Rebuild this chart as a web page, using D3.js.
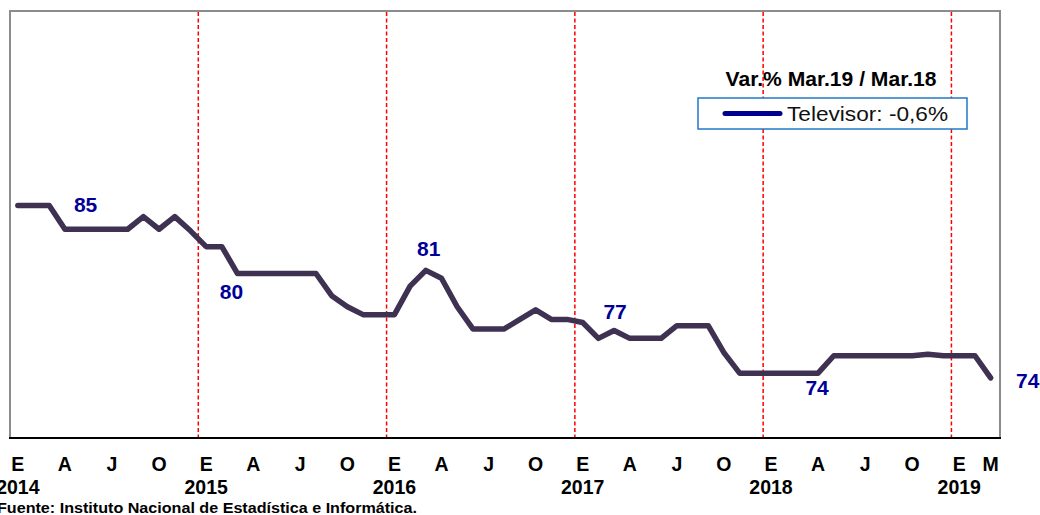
<!DOCTYPE html>
<html>
<head>
<meta charset="utf-8">
<script src="https://cdn.jsdelivr.net/npm/d3@7"></script>
<style>
  html, body { margin: 0; padding: 0; background: #fff; }
  svg { display: block; }
</style>
</head>
<body>
<svg id="chart" width="1040" height="515"></svg>
<script>
// ---- data ----
const years = [2014, 2015, 2016, 2017, 2018, 2019];
const monthLetters = ["E","F","M","A","M","J","J","A","S","O","N","D"];
const categories = [];
years.forEach(y => monthLetters.forEach((m, i) => {
  if (y < 2019 || i < 3) categories.push({ key: y + "-" + (i + 1), year: y, month: i, letter: m });
}));
const televisor = [
  84.7, 84.7, 84.7, 83.2, 83.2, 83.2, 83.2, 83.2, 84.0, 83.2, 84.0, 83.1,
  82.1, 82.1, 80.4, 80.4, 80.4, 80.4, 80.4, 80.4, 79.0, 78.3, 77.8, 77.8,
  77.8, 79.6, 80.6, 80.1, 78.3, 76.9, 76.9, 76.9, 77.5, 78.1, 77.5, 77.5,
  77.3, 76.3, 76.8, 76.3, 76.3, 76.3, 77.1, 77.1, 77.1, 75.4, 74.1, 74.1,
  74.1, 74.1, 74.1, 74.1, 75.2, 75.2, 75.2, 75.2, 75.2, 75.2, 75.3, 75.2,
  75.2, 75.2, 73.8
];
const tickIndex = [0, 3, 6, 9, 12, 15, 18, 21, 24, 27, 30, 33, 36, 39, 42, 45, 48, 51, 54, 57, 60, 62];
const yearTickIndex = [0, 12, 24, 36, 48, 60];
const labelIndex = [4, 14, 26, 38, 51, 62];
const labelText = ["85", "80", "81", "77", "74", "74"];
const legendTitle = "Var.% Mar.19  / Mar.18";
const legendText = "Televisor: -0,6%";
const sourceText = "Fuente: Instituto Nacional de Estadística e Informática.";

// ---- layout ----
const svg = d3.select("#chart");
const frame = { left: 10, right: 1000, top: 11, bottom: 438 };

const x = d3.scaleBand()
  .domain(categories.map(d => d.key))
  .range([10, 998.5])
  .paddingInner(0).paddingOuter(0);
const cx = i => x(categories[i].key) + x.bandwidth() / 2;

const y = d3.scaleLinear().domain([70, 97]).range([frame.bottom, frame.top]);

// frame
svg.append("rect")
  .attr("x", frame.left).attr("y", frame.top)
  .attr("width", frame.right - frame.left).attr("height", frame.bottom - frame.top)
  .attr("fill", "#fff").attr("stroke", "#8c8c8c").attr("stroke-width", 2);

// red dashed year separators
const yearStarts = categories.filter(d => d.month === 0 && d.year > 2014);
svg.append("g").selectAll("line")
  .data(yearStarts)
  .join("line")
  .attr("x1", d => x(d.key)).attr("x2", d => x(d.key))
  .attr("y1", frame.top + 1).attr("y2", frame.bottom)
  .attr("stroke", "#ff0000").attr("stroke-width", 1.5)
  .attr("stroke-dasharray", "4,2.5");

// bottom axis line
svg.append("line")
  .attr("x1", frame.left - 1).attr("x2", frame.right + 1)
  .attr("y1", frame.bottom).attr("y2", frame.bottom)
  .attr("stroke", "#000").attr("stroke-width", 2.2);

// series line
const line = d3.line()
  .x((d, i) => cx(i))
  .y(d => y(d));
svg.append("path")
  .datum(televisor)
  .attr("d", line)
  .attr("fill", "none")
  .attr("stroke", "#3f3151")
  .attr("stroke-width", 5.5)
  .attr("stroke-linejoin", "round")
  .attr("stroke-linecap", "round");

// data labels
const labelOffsets = [[5, -25], [-6, 18], [3, -22], [1, -19], [-1, 14], [37, 3]];
svg.append("g").selectAll("text")
  .data(labelIndex)
  .join("text")
  .attr("x", (d, k) => cx(d) + labelOffsets[k][0])
  .attr("y", (d, k) => y(televisor[d]) + labelOffsets[k][1])
  .attr("text-anchor", "middle")
  .attr("dominant-baseline", "central")
  .attr("font-family", "Liberation Sans, Arial, sans-serif")
  .attr("font-weight", "bold")
  .attr("font-size", 21)
  .attr("fill", "#000099")
  .text((d, k) => labelText[k]);

// month axis
const monthAxis = d3.axisBottom(x)
  .tickValues(tickIndex.map(i => categories[i].key))
  .tickFormat(k => categories.find(c => c.key === k).letter)
  .tickSize(0).tickPadding(0);
const gm = svg.append("g").attr("transform", `translate(0, 457)`).call(monthAxis);
gm.select(".domain").remove();
gm.selectAll("text")
  .attr("dy", "0.72em")
  .attr("font-family", "Liberation Sans, Arial, sans-serif")
  .attr("font-weight", "bold").attr("font-size", 19.5).attr("fill", "#000");

// year axis
const yearAxis = d3.axisBottom(x)
  .tickValues(yearTickIndex.map(i => categories[i].key))
  .tickFormat(k => categories.find(c => c.key === k).year)
  .tickSize(0).tickPadding(0);
const gy = svg.append("g").attr("transform", `translate(0, 480)`).call(yearAxis);
gy.select(".domain").remove();
gy.selectAll("text")
  .attr("dy", "0.72em")
  .attr("font-family", "Liberation Sans, Arial, sans-serif")
  .attr("font-weight", "bold").attr("font-size", 19.5).attr("fill", "#000");

// source
svg.append("text")
  .attr("x", -3).attr("y", 513)
  .attr("font-family", "Liberation Sans, Arial, sans-serif")
  .attr("font-weight", "bold").attr("font-size", 14)
  .attr("textLength", 420).attr("lengthAdjust", "spacingAndGlyphs")
  .attr("fill", "#000")
  .text(sourceText);

// legend
const lg = svg.append("g");
lg.append("text")
  .attr("x", 831).attr("y", 86)
  .attr("text-anchor", "middle")
  .attr("font-family", "Liberation Sans, Arial, sans-serif")
  .attr("font-weight", "bold").attr("font-size", 21)
  .attr("textLength", 211).attr("lengthAdjust", "spacingAndGlyphs")
  .attr("fill", "#000")
  .text(legendTitle);
lg.append("rect")
  .attr("x", 698).attr("y", 98).attr("width", 269).attr("height", 31)
  .attr("fill", "#fff").attr("stroke", "#1f78c8").attr("stroke-width", 1.5);
lg.append("line")
  .attr("x1", 725).attr("x2", 780).attr("y1", 113.5).attr("y2", 113.5)
  .attr("stroke", "#000090").attr("stroke-width", 5).attr("stroke-linecap", "round");
lg.append("text")
  .attr("x", 787).attr("y", 121)
  .attr("font-family", "Liberation Sans, Arial, sans-serif")
  .attr("font-size", 21)
  .attr("textLength", 161).attr("lengthAdjust", "spacingAndGlyphs")
  .attr("fill", "#111")
  .text(legendText);
</script>
</body>
</html>
